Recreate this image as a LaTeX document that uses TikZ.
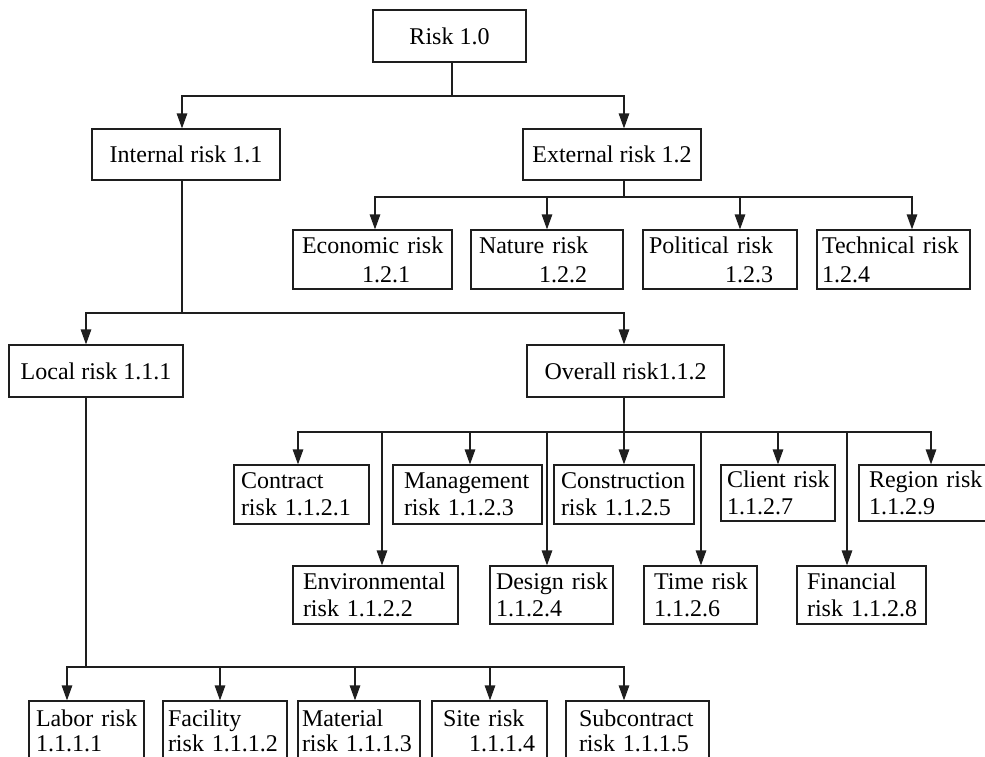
\documentclass[tikz,border=0pt]{standalone}
\usepackage{fontspec}
\setmainfont{Liberation Serif}
\usetikzlibrary{arrows.meta}
\definecolor{lc}{RGB}{30,30,30}
\newcommand{\myln}[1]{\mbox{#1}}
\begin{document}
\begin{tikzpicture}[x=1pt,y=-1pt,
  every node/.style={font=\fontsize{24}{27}\selectfont, text=black},
  box/.style={draw=lc, line width=1.2pt, inner ysep=0pt, minimum height=59pt, align=left},
  cbox/.style={draw=lc, line width=1.2pt, inner sep=0pt, align=center},
  conn/.style={draw=lc, line width=1.3pt},
  arr/.style={conn, -{Triangle[length=15pt,width=10.5pt]}}]
\useasboundingbox (0,0) rectangle (985,756);

% level 0 and 1
\node[cbox, minimum width=153pt, minimum height=52pt] (root) at (449.5,36) {Risk 1.0};
\node[cbox, minimum width=188pt, minimum height=51pt] (int) at (186,154.5) {Internal risk 1.1};
\node[cbox, minimum width=178pt, minimum height=51pt] (ext) at (612,154.5) {External risk 1.2};

% external children
\node[box, font=\fontsize{24}{29}\selectfont, minimum width=159pt, text width=141pt, inner xsep=9pt] (eco) at (372.5,259.5) {\myln{Economic risk}\\\myln{\hspace*{60pt}1.2.1}};
\node[box, font=\fontsize{24}{29}\selectfont, minimum width=152pt, text width=136pt, inner xsep=8pt] (nat) at (547,259.5) {\myln{Nature risk}\\\myln{\hspace*{60pt}1.2.2}};
\node[box, font=\fontsize{24}{29}\selectfont, minimum width=154pt, text width=142pt, inner xsep=6pt] (pol) at (720,259.5) {\myln{Political risk}\\\myln{\hspace*{76pt}1.2.3}};
\node[box, font=\fontsize{24}{29}\selectfont, minimum width=153pt, text width=143pt, inner xsep=5pt] (tech) at (893.5,259.5) {\myln{Technical risk}\\\myln{1.2.4}};

% internal children
\node[cbox, minimum width=174pt, minimum height=52pt] (loc) at (96,371) {Local risk 1.1.1};
\node[cbox, minimum width=197pt, minimum height=52pt] (ovr) at (625.5,371) {Overall risk1.1.2};

% overall children, upper row
\node[box, minimum width=135pt, text width=121pt, inner xsep=7pt] (con) at (301.5,494.5) {\myln{Contract}\\\myln{risk 1.1.2.1}};
\node[box, minimum width=149pt, text width=127pt, inner xsep=11pt] (mgt) at (467.5,494.5) {\myln{Management}\\\myln{risk 1.1.2.3}};
\node[box, minimum width=140pt, text width=126pt, inner xsep=7pt] (cst) at (624,494.5) {\myln{Construction}\\\myln{risk 1.1.2.5}};
\node[box, minimum height=56pt, minimum width=114pt, text width=102pt, inner xsep=6pt] (cli) at (778,493) {\myln{Client risk}\\\myln{1.1.2.7}};
\node[box, minimum height=56pt, minimum width=132pt, text width=112pt, inner xsep=10pt] (reg) at (925,493) {\myln{Region risk}\\\myln{1.1.2.9}};

% overall children, lower row
\node[box, minimum height=58pt, minimum width=165pt, text width=145pt, inner xsep=10pt] (env) at (375.5,595) {\myln{Environmental}\\\myln{risk 1.1.2.2}};
\node[box, minimum height=58pt, minimum width=123pt, text width=111pt, inner xsep=6pt] (des) at (551.5,595) {\myln{Design risk}\\\myln{1.1.2.4}};
\node[box, minimum height=58pt, minimum width=113pt, text width=93pt, inner xsep=10pt] (tim) at (700.5,595) {\myln{Time risk}\\\myln{1.1.2.6}};
\node[box, minimum height=58pt, minimum width=129pt, text width=109pt, inner xsep=10pt] (fin) at (861.5,595) {\myln{Financial}\\\myln{risk 1.1.2.8}};

% local children
\node[box, font=\fontsize{24}{25}\selectfont, minimum width=115pt, text width=101pt, inner xsep=7pt] (lab) at (86.5,730.5) {\myln{Labor risk}\\\myln{1.1.1.1}};
\node[box, font=\fontsize{24}{25}\selectfont, minimum width=124pt, text width=114pt, inner xsep=5pt] (fac) at (225,730.5) {\myln{Facility}\\\myln{risk 1.1.1.2}};
\node[box, font=\fontsize{24}{25}\selectfont, minimum width=122pt, text width=114pt, inner xsep=4pt] (mat) at (359,730.5) {\myln{Material}\\\myln{risk 1.1.1.3}};
\node[box, font=\fontsize{24}{25}\selectfont, minimum width=115pt, text width=93pt, inner xsep=11pt] (sit) at (489.5,730.5) {\myln{Site risk}\\\myln{\hspace*{26pt}1.1.1.4}};
\node[box, font=\fontsize{24}{25}\selectfont, minimum width=143pt, text width=117pt, inner xsep=13pt] (sub) at (637.5,730.5) {\myln{Subcontract}\\\myln{risk 1.1.1.5}};

% junctions
\coordinate (j0) at (452,96);
\coordinate (j1) at (624,197);
\coordinate (j2) at (182,313);
\coordinate (j3) at (624,432);
\coordinate (j4) at (86,667);

% connectors
\draw[conn] (root.south -| j0) -- (j0);
\draw[arr] (j0) -| ([xshift=-4pt]int.north);
\draw[arr] (j0) -| ([xshift=12pt]ext.north);

\draw[conn] (ext.south -| j1) -- (j1);
\draw[arr] (j1) -| ([xshift=2.5pt]eco.north);
\draw[arr] (j1) -| (nat.north);
\draw[arr] (j1) -| ([xshift=20pt]pol.north);
\draw[arr] (j1) -| ([xshift=18.5pt]tech.north);

\draw[conn] (int.south -| j2) -- (j2);
\draw[arr] (j2) -| ([xshift=-10pt]loc.north);
\draw[arr] (j2) -| ([xshift=-1.5pt]ovr.north);

\draw[conn] (ovr.south -| j3) -- (j3);
\draw[arr] (j3) -| ([xshift=-3.5pt]con.north);
\draw[arr] (j3) -| ([xshift=2.5pt]mgt.north);
\draw[arr] (j3) -| (cst.north);
\draw[arr] (j3) -| (cli.north);
\draw[arr] (j3) -| ([xshift=6pt]reg.north);
\draw[arr] (j3) -| ([xshift=6.5pt]env.north);
\draw[arr] (j3) -| ([xshift=-4.5pt]des.north);
\draw[arr] (j3) -| ([xshift=0.5pt]tim.north);
\draw[arr] (j3) -| ([xshift=-14.5pt]fin.north);

\draw[conn] (loc.south -| j4) -- (j4);
\draw[arr] (j4) -| ([xshift=-19.5pt]lab.north);
\draw[arr] (j4) -| ([xshift=-5pt]fac.north);
\draw[arr] (j4) -| ([xshift=-4pt]mat.north);
\draw[arr] (j4) -| ([xshift=0.5pt]sit.north);
\draw[arr] (j4) -| ([xshift=-13.5pt]sub.north);
\end{tikzpicture}
\end{document}
